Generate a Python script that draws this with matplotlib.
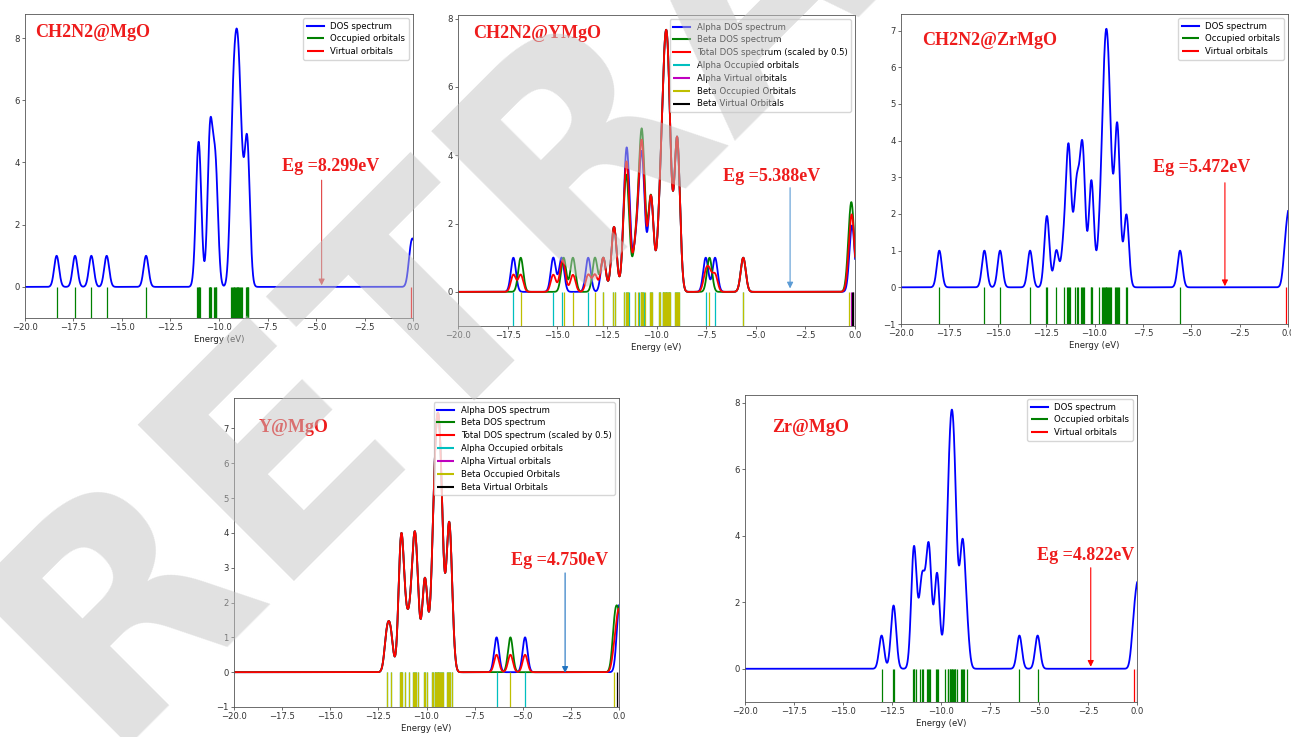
import numpy as np
import matplotlib
matplotlib.use("Agg")
import matplotlib.pyplot as plt

# Gaussian broadening used for every DOS curve (eV)
FWHM = 0.3
SIGMA = FWHM / (2.0 * np.sqrt(2.0 * np.log(2.0)))

# ---- closed-shell systems: orbital energies (eV) ----
mgo_occ = [-18.37, -17.42, -16.58, -15.79, -13.76,
           -11.12, -11.08, -11.05, -11.02, -10.98,
           -10.50, -10.48, -10.46, -10.44, -10.42,
           -10.24, -10.20, -10.17, -10.13,
           -9.38, -9.33, -9.29, -9.25, -9.21, -9.18, -9.12, -9.09, -9.06,
           -9.03, -9.00, -8.96, -8.92, -8.86, -8.80,
           -8.62, -8.58, -8.55, -8.52, -8.48]
mgo_virt = [-0.12, 0.06]

zrmgo_occ = [-18.02, -15.69, -14.88, -13.33, -12.49, -12.43, -11.97,
             -11.60, -11.40, -11.36, -11.32, -11.28,
             -11.00, -10.92, -10.86, -10.68, -10.64, -10.60, -10.55,
             -10.20, -10.16, -10.12,
             -9.75, -9.60, -9.55, -9.50, -9.46, -9.42, -9.38, -9.34, -9.30,
             -9.26, -9.20, -9.15,
             -8.92, -8.87, -8.83, -8.78, -8.74, -8.37, -8.33, -5.58]
zrmgo_virt = [-0.12, 0.05, 0.15]

zr_occ = [-13.03, -12.46, -12.38,
          -11.45, -11.40, -11.36, -11.30,
          -11.05, -10.95, -10.90, -10.70, -10.65, -10.60, -10.55,
          -10.25, -10.20, -10.15,
          -9.78, -9.65, -9.62, -9.56, -9.53, -9.50, -9.46, -9.42, -9.38,
          -9.34, -9.31, -9.28, -9.20,
          -9.00, -8.92, -8.88, -8.84, -8.68, -6.00, -5.07]
zr_virt = [-0.17, -0.02, 0.08, 0.18]

# ---- open-shell systems: alpha / beta orbital energies (eV) ----
ymgo_a_occ = [-17.21, -15.20, -14.78, -13.44, -12.68, -12.18, -12.10,
              -11.62, -11.55, -11.50, -11.45, -11.40,
              -11.08, -10.90, -10.80, -10.75, -10.70, -10.65,
              -10.34, -10.28, -10.22,
              -9.87, -9.80, -9.68, -9.65, -9.62, -9.58, -9.54, -9.50, -9.46,
              -9.42, -9.39, -9.36, -9.30,
              -9.05, -9.00, -8.96, -8.92, -8.88, -7.52, -7.05, -5.63]
ymgo_a_virt = [-0.18, -0.12]
ymgo_b_occ = [-16.84, -14.68, -14.21, -13.10, -12.68, -12.18, -12.10,
              -11.62, -11.55, -11.50, -11.42,
              -11.08, -10.92, -10.80, -10.76, -10.73, -10.70, -10.60,
              -10.34, -10.28, -10.22,
              -9.87, -9.80, -9.68, -9.65, -9.62, -9.58, -9.54, -9.50, -9.46,
              -9.42, -9.39, -9.36, -9.30,
              -9.05, -9.00, -8.96, -8.92, -8.88, -7.33, -5.63, -0.28]
ymgo_b_virt = [-0.17, -0.12]

y_a_occ = [-12.06, -11.86, -11.38, -11.34, -11.30, -11.25, -11.10,
           -10.90, -10.72, -10.66, -10.60, -10.54, -10.46,
           -10.15, -10.09, -10.00,
           -9.72, -9.64, -9.58, -9.54, -9.50, -9.46, -9.42, -9.38, -9.34,
           -9.30, -9.26, -9.22, -9.16,
           -8.92, -8.86, -8.82, -8.78, -8.70, -6.36, -4.88]
y_a_virt = [-0.02, 0.05]
y_b_occ = [-12.06, -11.86, -11.38, -11.34, -11.30, -11.25, -11.10,
           -10.90, -10.72, -10.66, -10.60, -10.54, -10.46,
           -10.15, -10.09, -10.00,
           -9.72, -9.64, -9.58, -9.54, -9.50, -9.46, -9.42, -9.38, -9.34,
           -9.30, -9.26, -9.22, -9.16,
           -8.92, -8.86, -8.82, -8.78, -8.70, -5.64, -0.24]
y_b_virt = [-0.10, 0.08]

system_names = ["CH2N2@MgO", "CH2N2@YMgO", "CH2N2@ZrMgO", "Y@MgO", "Zr@MgO"]
gaps_ev = [8.299, 5.388, 5.472, 4.750, 4.822]

W, H = 1291, 737
RED = "#ee1c1c"
SERIF = "Liberation Serif"
SMALL = 6.1

energy = np.linspace(-20.5, 0.5, 4201)


def dos(levels):
    lv = np.asarray(levels)[:, None]
    return np.exp(-(energy[None, :] - lv) ** 2 / (2 * SIGMA ** 2)).sum(axis=0)


def panel(fig, left, top, right, bottom):
    return fig.add_axes([left / W, (H - bottom) / H, (right - left) / W,
                         (bottom - top) / H])


def draw_closed(ax, occ, virt):
    ax.plot(energy, dos(occ + virt), color="b", lw=1.3, label="DOS spectrum")
    ax.vlines(occ, -1, 0, colors="g", lw=0.9, label="Occupied orbitals")
    ax.vlines(virt, -1, 0, colors="r", lw=0.9, label="Virtual orbitals")


def draw_open(ax, a_occ, a_virt, b_occ, b_virt):
    a = dos(a_occ + a_virt)
    b = dos(b_occ + b_virt)
    ax.plot(energy, a, color="b", lw=1.3, label="Alpha DOS spectrum")
    ax.plot(energy, b, color="g", lw=1.3, label="Beta DOS spectrum")
    ax.plot(energy, 0.5 * (a + b), color="r", lw=1.3,
            label="Total DOS spectrum (scaled by 0.5)")
    ax.vlines(a_occ, -1, 0, colors="c", lw=0.9, label="Alpha Occupied orbitals")
    ax.vlines(a_virt, -1, 0, colors="m", lw=0.9, label="Alpha Virtual orbitals")
    ax.vlines(b_occ, -1, 0, colors="y", lw=0.9, label="Beta Occupied Orbitals")
    ax.vlines(b_virt, -1, 0, colors="k", lw=0.9, label="Beta Virtual Orbitals")


def finish(ax, name, gap, name_xy, gap_xy, arrow_x, arrow_y, arrow_color):
    ax.set_xlim(-20, 0)
    ax.set_ylim(bottom=-1)
    ax.set_xlabel("Energy (eV)", fontsize=SMALL, labelpad=2, color="#222")
    ax.tick_params(labelsize=SMALL, length=2.2, width=0.5, pad=1.5,
                   colors="#333")
    for s in ax.spines.values():
        s.set_linewidth(0.6)
        s.set_color("#555")
    leg = ax.legend(loc="upper right", fontsize=SMALL, handlelength=2.0,
                    borderpad=0.4, labelspacing=0.45, framealpha=0.8)
    for h in leg.legend_handles:
        h.set_linewidth(1.5)
    ax.text(name_xy[0], name_xy[1], name, transform=ax.transAxes,
            color=RED, fontsize=13, fontweight="bold", family=SERIF,
            ha="left", va="center")
    ax.text(gap_xy[0], gap_xy[1], "Eg ={:.3f}eV".format(gap), color=RED,
            fontsize=13, fontweight="bold", family=SERIF,
            ha="center", va="center")
    ax.annotate("", xy=(arrow_x, arrow_y[1]), xytext=(arrow_x, arrow_y[0]),
                arrowprops=dict(arrowstyle="-|>", color=arrow_color, lw=0.8,
                                mutation_scale=9, shrinkA=0, shrinkB=0))


fig = plt.figure(figsize=(W / 100, H / 100), dpi=100)

ax1 = panel(fig, 25, 14, 413, 318)
draw_closed(ax1, mgo_occ, mgo_virt)
finish(ax1, system_names[0], gaps_ev[0], (0.026, 0.94), (-4.23, 3.87),
       -4.71, (3.43, 0.05), "#e04040")

ax2 = panel(fig, 458, 15, 855, 326)
draw_open(ax2, ymgo_a_occ, ymgo_a_virt, ymgo_b_occ, ymgo_b_virt)
finish(ax2, system_names[1], gaps_ev[1], (0.038, 0.94), (-4.22, 3.39),
       -3.27, (3.05, 0.1), "#5b9bd5")

ax3 = panel(fig, 901, 14, 1288, 324)
draw_closed(ax3, zrmgo_occ, zrmgo_virt)
finish(ax3, system_names[2], gaps_ev[2], (0.054, 0.916), (-4.48, 3.26),
       -3.26, (2.85, 0.03), "red")

ax4 = panel(fig, 234, 398, 619, 707)
draw_open(ax4, y_a_occ, y_a_virt, y_b_occ, y_b_virt)
finish(ax4, system_names[3], gaps_ev[3], (0.065, 0.903), (-3.1, 3.22),
       -2.8, (2.85, -0.02), "#1f72c0")

ax5 = panel(fig, 745, 395, 1137, 702)
draw_closed(ax5, zr_occ, zr_virt)
finish(ax5, system_names[4], gaps_ev[4], (0.069, 0.893), (-2.62, 3.41),
       -2.36, (3.04, 0.06), "red")

# diagonal retraction stamp across the whole figure
fig.text(0.5825, 1.0326, "RETRACTED", rotation=45, rotation_mode="anchor",
         fontsize=219, fontweight="bold", color="#c4c4c4", alpha=0.5,
         ha="center", va="center", zorder=10)

fig.savefig("out.png", dpi=100)
